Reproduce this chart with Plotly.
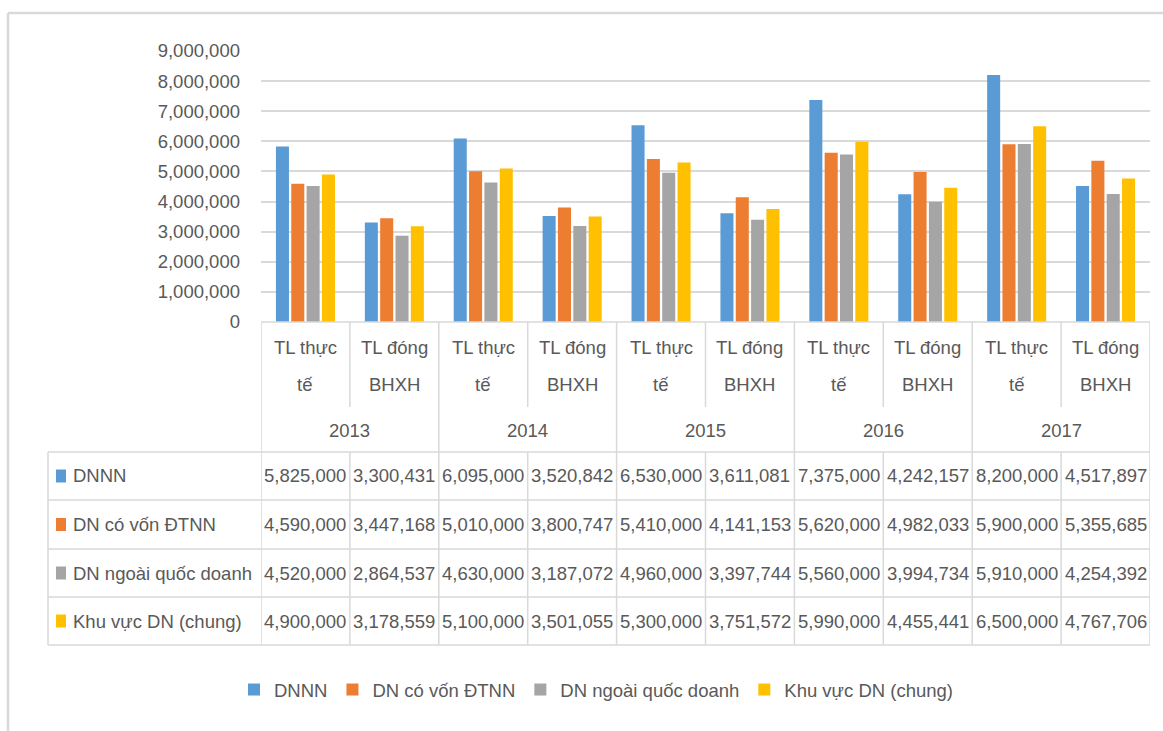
import plotly.graph_objects as go

# ---- data ----
years = ["2013", "2014", "2015", "2016", "2017"]
wage_types = [["TL thực", "tế"], ["TL đóng", "BHXH"]]
series_names = ["DNNN", "DN có vốn ĐTNN", "DN ngoài quốc doanh", "Khu vực DN (chung)"]

dnnn = [5825000, 3300431, 6095000, 3520842, 6530000, 3611081, 7375000, 4242157, 8200000, 4517897]
dn_fdi = [4590000, 3447168, 5010000, 3800747, 5410000, 4141153, 5620000, 4982033, 5900000, 5355685]
dn_private = [4520000, 2864537, 4630000, 3187072, 4960000, 3397744, 5560000, 3994734, 5910000, 4254392]
dn_all = [4900000, 3178559, 5100000, 3501055, 5300000, 3751572, 5990000, 4455441, 6500000, 4767706]

y_ticks = [0, 1000000, 2000000, 3000000, 4000000, 5000000, 6000000, 7000000, 8000000, 9000000]

colors = ["#5B9BD5", "#ED7D31", "#A5A5A5", "#FFC000"]
series_values = [dnnn, dn_fdi, dn_private, dn_all]

# ---- layout geometry (pixels) ----
W, H = 1163, 731
L, R, T, B = 261, 1150, 51, 322
FONT = "Liberation Sans, Arial, sans-serif"
TXT = "#595959"
LINE = "#D9D9D9"
FS = 18.5


def xp(px):
    return (px - L) / (R - L)


def yp(py):
    return (B - py) / (B - T)


n_cat = len(years) * len(wage_types)
xs = list(range(n_cat))

fig = go.Figure()
for name, vals, col in zip(series_names, series_values, colors):
    fig.add_trace(go.Bar(x=xs, y=vals, name=name, marker=dict(color=col, line=dict(width=0))))

shapes = []
annotations = []


def label(x, y, text, xref="x", anchor="center"):
    annotations.append(dict(x=x, y=y, xref=xref, yref="paper", text=text, showarrow=False,
                            font=dict(size=FS, color=TXT, family=FONT), xanchor=anchor, yanchor="middle"))


# category axis labels
for i in xs:
    first, second = wage_types[i % 2]
    label(i, yp(347), first)
    label(i, yp(384), second)
for k, yr in enumerate(years):
    label(2 * k + 0.5, yp(430), yr)

# axis line
shapes.append(dict(type="line", xref="paper", yref="paper", x0=0, x1=1, y0=0, y1=0,
                   line=dict(color=LINE, width=1.5)))

# vertical dividers
row_lines = [452, 500, 549, 597, 645]
for j in range(n_cat + 1):
    xb = j - 0.5
    if j % 2 == 0:
        shapes.append(dict(type="line", xref="x", yref="paper", x0=xb, x1=xb, y0=yp(B), y1=yp(645),
                           line=dict(color=LINE, width=1.5)))
    else:
        shapes.append(dict(type="line", xref="x", yref="paper", x0=xb, x1=xb, y0=yp(B), y1=yp(407),
                           line=dict(color=LINE, width=1.5)))
        shapes.append(dict(type="line", xref="x", yref="paper", x0=xb, x1=xb, y0=yp(452), y1=yp(645),
                           line=dict(color=LINE, width=1.5)))

# table grid
for ry in row_lines:
    shapes.append(dict(type="line", xref="paper", yref="paper", x0=xp(48), x1=1, y0=yp(ry), y1=yp(ry),
                       line=dict(color=LINE, width=1.5)))
shapes.append(dict(type="line", xref="paper", yref="paper", x0=xp(48), x1=xp(48), y0=yp(452), y1=yp(645),
                   line=dict(color=LINE, width=1.5)))

# table rows: legend key, series name, values
for r, (name, vals, col) in enumerate(zip(series_names, series_values, colors)):
    cy = (row_lines[r] + row_lines[r + 1]) / 2
    shapes.append(dict(type="rect", xref="paper", yref="paper", x0=xp(56), x1=xp(66),
                       y0=yp(cy + 6.5), y1=yp(cy - 6.5), fillcolor=col, line=dict(width=0)))
    label(xp(71), yp(cy), name, xref="paper", anchor="left")
    for i, v in zip(xs, vals):
        label(i, yp(cy), f"{v:,}")

# outer chart frame
shapes.append(dict(type="line", xref="paper", yref="paper", x0=xp(8), x1=xp(8), y0=yp(13), y1=yp(740),
                   line=dict(color=LINE, width=2.5)))
shapes.append(dict(type="line", xref="paper", yref="paper", x0=xp(8), x1=xp(1170), y0=yp(13), y1=yp(13),
                   line=dict(color=LINE, width=2.5)))

fig.update_layout(
    width=W, height=H,
    margin=dict(l=L, r=W - R, t=T, b=H - B, pad=0),
    paper_bgcolor="white", plot_bgcolor="white",
    barmode="group", bargap=0.31, bargroupgap=0.15,
    font=dict(family=FONT, size=FS, color=TXT),
    xaxis=dict(range=[-0.5, n_cat - 0.5], showticklabels=False, showgrid=False, zeroline=False,
               showline=False, ticks=""),
    yaxis=dict(range=[0, 9000000], tickvals=y_ticks, tickformat=",d", showgrid=True, gridcolor=LINE,
               gridwidth=1.5, zeroline=False, showline=False, ticks="", ticklabelstandoff=20,
               tickfont=dict(size=FS, color=TXT, family=FONT)),
    showlegend=True,
    legend=dict(orientation="h", x=xp(596), xanchor="center", y=yp(690), yanchor="middle",
                font=dict(size=FS, color=TXT, family=FONT), bgcolor="rgba(0,0,0,0)"),
    shapes=shapes, annotations=annotations,
)

fig.write_html("out.html")
